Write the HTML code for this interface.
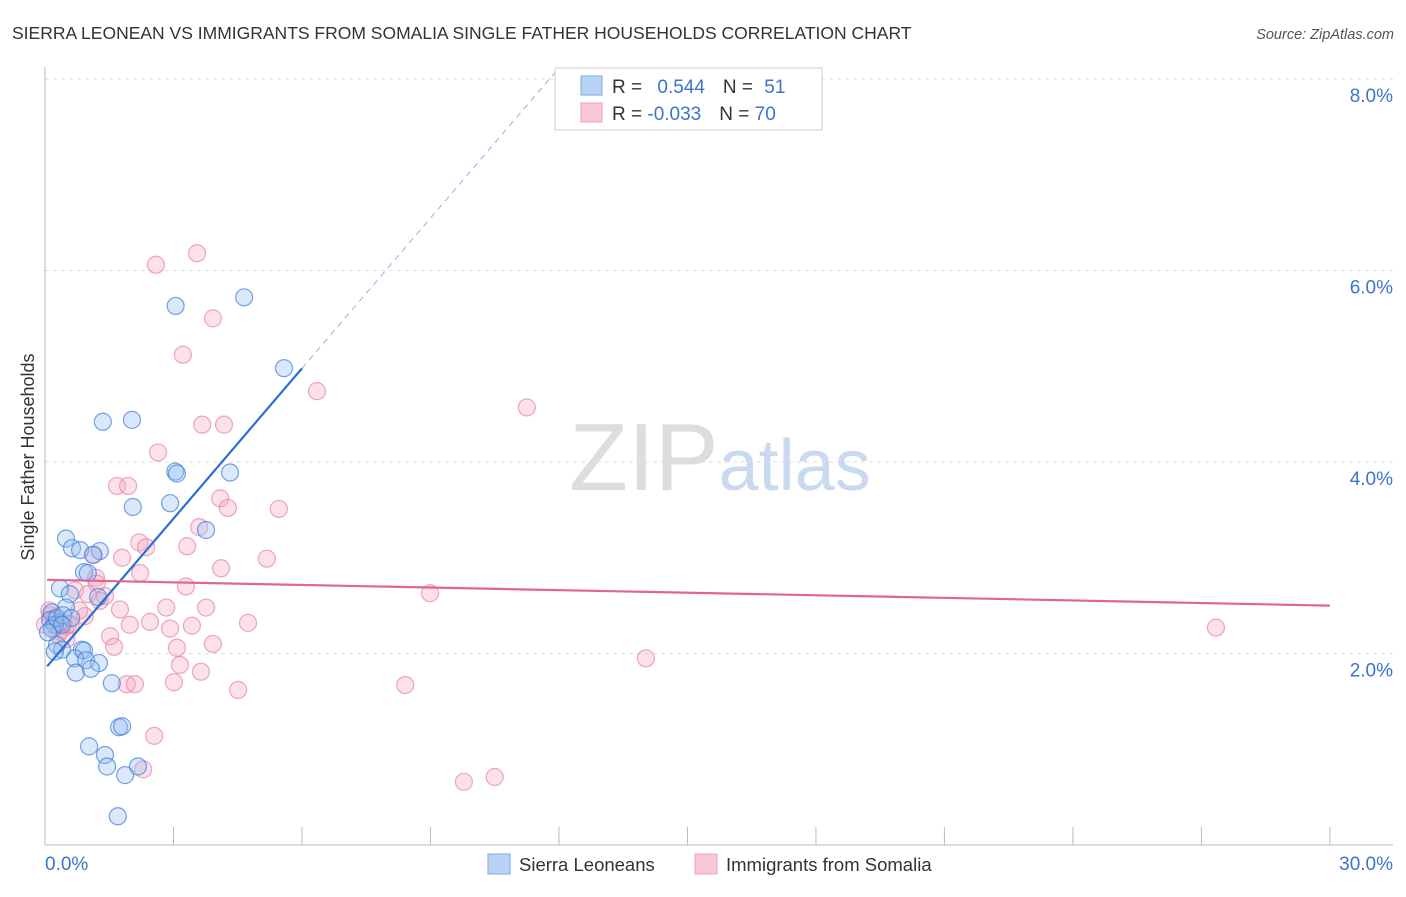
<!DOCTYPE html>
<html><head><meta charset="utf-8"><style>
body{margin:0;background:#fff;font-family:"Liberation Sans",sans-serif;}
svg text{font-family:"Liberation Sans",sans-serif;}
</style></head><body>
<svg id="c" width="1406" height="892">
<text x="12" y="39" font-size="17.5" fill="#333">SIERRA LEONEAN VS IMMIGRANTS FROM SOMALIA SINGLE FATHER HOUSEHOLDS CORRELATION CHART</text>
<text x="1394" y="39" font-size="14.5" fill="#555" font-style="italic" text-anchor="end">Source: ZipAtlas.com</text>
<text x="720" y="490" font-size="96" fill="#ddd" text-anchor="middle" font-family="Liberation Serif">ZIP<tspan fill="#c9d9ef" font-family="Liberation Sans" font-size="72">atlas</tspan></text>
<text transform="translate(34,457) rotate(-90)" font-size="18" fill="#333" text-anchor="middle">Single Father Households</text>
<g id="grid"></g><g id="pts"></g><g id="lines"></g>
<g>
<rect x="555" y="68" width="267" height="62" fill="#fff" stroke="#ccc"/>
<rect x="581" y="76" width="21" height="19" fill="#b9d3f6" stroke="#7aa8e6"/>
<rect x="581" y="103" width="21" height="19" fill="#f9c7d6" stroke="#eea0b7"/>
<text x="612" y="93" font-size="19" fill="#333">R = <tspan fill="#3a74d0" dx="10">0.544</tspan><tspan dx="18" fill="#333">N = </tspan><tspan fill="#3a74d0" dx="6">51</tspan></text>
<text x="612" y="120" font-size="19" fill="#333">R = <tspan fill="#3a74d0">-0.033</tspan><tspan dx="18" fill="#333">N = </tspan><tspan fill="#3a74d0">70</tspan></text>
</g>
<g>
<rect x="488" y="854" width="22" height="20" fill="#b9d3f6" stroke="#7aa8e6"/>
<text x="519" y="871" font-size="18.5" fill="#333">Sierra Leoneans</text>
<rect x="695" y="854" width="22" height="20" fill="#f9c7d6" stroke="#eea0b7"/>
<text x="726" y="871" font-size="18.5" fill="#333">Immigrants from Somalia</text>
</g>
</svg>
<script>
const yTicks=[2,4,6,8];
const xTickLabels=["0.0%","30.0%"];
const blueX=[3.05,4.65,5.58,1.35,2.03,3.04,3.08,4.32,2.05,2.92,3.76,0.49,0.63,0.82,1.28,1.12,0.91,1.0,0.35,0.58,1.24,0.49,0.16,0.35,0.12,0.23,0.28,0.4,0.23,0.86,0.91,0.7,0.96,1.26,0.72,1.07,1.56,1.73,1.8,1.03,1.4,1.45,2.17,1.87,1.7,0.16,0.07,0.28,0.42,0.61,0.4];
const blueY=[5.63,5.72,4.98,4.42,4.44,3.90,3.88,3.89,3.53,3.57,3.29,3.20,3.10,3.08,3.07,3.03,2.85,2.84,2.68,2.62,2.59,2.48,2.43,2.32,2.35,2.30,2.09,2.04,2.02,2.04,2.03,1.95,1.93,1.90,1.80,1.84,1.69,1.23,1.24,1.03,0.94,0.82,0.82,0.73,0.30,2.26,2.22,2.37,2.40,2.37,2.30];
const pinkX=[3.55,2.59,3.92,3.22,6.35,11.25,3.67,4.18,2.64,1.68,1.94,4.09,4.27,5.46,3.6,2.2,2.36,3.32,1.14,1.8,5.18,2.22,4.11,1.19,1.21,3.29,0.7,1.0,1.28,1.75,2.83,3.76,8.99,0.54,0.47,0.93,1.98,2.45,2.92,3.43,4.74,27.34,1.52,1.61,3.08,3.92,3.15,3.64,14.03,1.91,2.1,3.01,4.51,8.41,2.55,2.29,9.78,10.5,0.12,0.23,0,0.35,0.1,0.3,0.5,0.2,1.4,0.8,0.6,0.25];
const pinkY=[6.18,6.06,5.50,5.12,4.74,4.57,4.39,4.39,4.10,3.75,3.75,3.62,3.52,3.51,3.32,3.16,3.11,3.12,3.03,3.00,2.99,2.84,2.89,2.79,2.73,2.70,2.66,2.62,2.55,2.46,2.48,2.48,2.63,2.30,2.28,2.39,2.30,2.33,2.26,2.29,2.32,2.27,2.18,2.07,2.06,2.10,1.88,1.81,1.95,1.68,1.68,1.70,1.62,1.67,1.14,0.79,0.66,0.71,2.40,2.35,2.30,2.23,2.45,2.20,2.15,2.35,2.60,2.45,2.30,2.38];
const blueFit=[1.84,0.523];
const pinkFit=[2.77,-0.009];
const NS="http://www.w3.org/2000/svg";
const X=v=>45+v*42.83, Y=v=>845-v*95.75;
function mk(t,a,p){const e=document.createElementNS(NS,t);for(const k in a)e.setAttribute(k,a[k]);p.appendChild(e);return e;}
const g=document.getElementById('grid');
yTicks.forEach(t=>{const l=mk('line',{x1:45,x2:1393,y1:Y(t),y2:Y(t),stroke:'#ddd','stroke-dasharray':'4,4'},g);


const tx=mk('text',{x:1393,y:Y(t)+23,'font-size':19,fill:'#3a74d0','text-anchor':'end'},g);tx.textContent=t.toFixed(1)+'%';

});
mk('line',{x1:45,x2:1393,y1:Y(8),y2:Y(8),stroke:'#ddd','stroke-dasharray':'4,4'},g);
mk('line',{x1:45,x2:45,y1:67,y2:845,stroke:'#bbb'},g);
mk('line',{x1:45,x2:1393,y1:845,y2:845,stroke:'#bbb'},g);
for(let i=0;i<=10;i++){const t=mk('line',{x1:X(i*3),x2:X(i*3),y1:827,y2:845,stroke:'#bbb'},g);

}
const xl0=mk('text',{x:45,y:870,'font-size':19,fill:'#3a74d0'},g);xl0.textContent=xTickLabels[0];


const xl1=mk('text',{x:1393,y:870,'font-size':19,fill:'#3a74d0','text-anchor':'end'},g);xl1.textContent=xTickLabels[1];


const p=document.getElementById('pts');
pinkX.forEach((v,i)=>{const c=mk('circle',{cx:X(v),cy:Y(pinkY[i]),r:8.5,fill:'rgba(246,170,195,0.35)',stroke:'rgba(232,130,165,0.7)','stroke-width':1.2},p);

});
blueX.forEach((v,i)=>{const c=mk('circle',{cx:X(v),cy:Y(blueY[i]),r:8.5,fill:'rgba(150,190,240,0.35)',stroke:'rgba(60,125,215,0.7)','stroke-width':1.2},p);

});
const L=document.getElementById('lines');
const f=(fit,x)=>fit[0]+fit[1]*x;
const bl=mk('line',{x1:X(0.05),y1:Y(f(blueFit,0.05)),x2:X(6),y2:Y(f(blueFit,6)),stroke:'#2a6fd6','stroke-width':2.2},L);


const bd=mk('line',{x1:X(6),y1:Y(f(blueFit,6)),x2:X(11.9),y2:Y(f(blueFit,11.9)),stroke:'#8fb3e6','stroke-width':1,'stroke-dasharray':'6,5'},L);


const pl=mk('line',{x1:X(0.05),y1:Y(f(pinkFit,0.05)),x2:X(30),y2:Y(f(pinkFit,30)),stroke:'#e0668f','stroke-width':2.2},L);


</script>
</body></html>
